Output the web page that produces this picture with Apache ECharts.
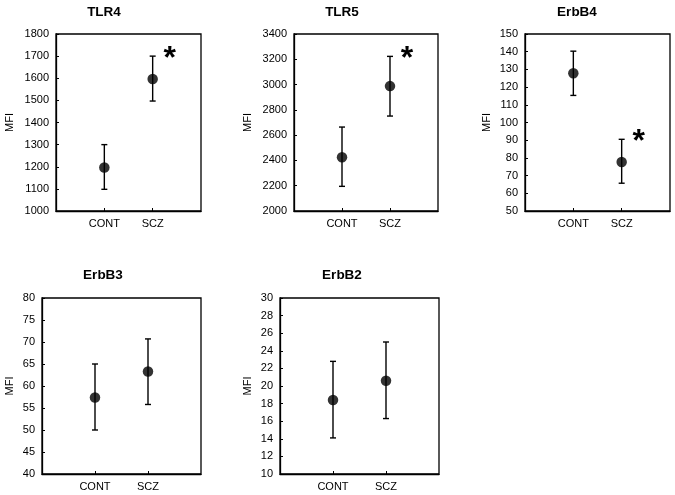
<!DOCTYPE html>
<html>
<head>
<meta charset="utf-8">
<script src="https://cdn.jsdelivr.net/npm/echarts@6/dist/echarts.min.js"></script>
<style>
html,body{margin:0;padding:0;background:#fff;}
#chart{width:675px;height:495px;}
</style>
</head>
<body>
<div id="chart"></div>
<script>
// ---- data ----
var axisCats = ['', 'CONT', 'SCZ', ''];
var groups = ['CONT', 'SCZ'];

var panelTitles = ['TLR4', 'TLR5', 'ErbB4', 'ErbB3', 'ErbB2'];
var yAxisName = 'MFI';

var tlr4Mean = [1197, 1597];
var tlr4Low = [1098, 1497];
var tlr4High = [1300, 1700];
var tlr4Sig = [false, true];

var tlr5Mean = [2425, 2988];
var tlr5Low = [2195, 2751];
var tlr5High = [2664, 3223];
var tlr5Sig = [false, true];

var erbb4Mean = [127.8, 77.7];
var erbb4Low = [115.3, 65.7];
var erbb4High = [140.3, 90.5];
var erbb4Sig = [false, true];

var erbb3Mean = [57.4, 63.3];
var erbb3Low = [50.0, 55.8];
var erbb3High = [65.0, 70.7];
var erbb3Sig = [false, false];

var erbb2Mean = [18.4, 20.6];
var erbb2Low = [14.1, 16.3];
var erbb2High = [22.8, 25.0];
var erbb2Sig = [false, false];

// y axis ranges (min, max, interval)
var yMin = [1000, 2000, 50, 40, 10];
var yMax = [1800, 3400, 150, 80, 30];
var yStep = [100, 200, 10, 5, 2];

// ---- layout ----
var grids = [
  {left: 56, top: 34, width: 145, height: 177},
  {left: 294, top: 34, width: 144, height: 177},
  {left: 525, top: 34, width: 145, height: 177},
  {left: 42, top: 298, width: 159, height: 176},
  {left: 280, top: 298, width: 159, height: 176}
];
var titlePos = [
  {x: 104, y: 5}, {x: 342, y: 5}, {x: 577, y: 5},
  {x: 103, y: 268}, {x: 342, y: 268}
];
var nameGaps = [41, 41, 33, 27, 27];

var panels = [
  [tlr4Mean, tlr4Low, tlr4High, tlr4Sig],
  [tlr5Mean, tlr5Low, tlr5High, tlr5Sig],
  [erbb4Mean, erbb4Low, erbb4High, erbb4Sig],
  [erbb3Mean, erbb3Low, erbb3High, erbb3Sig],
  [erbb2Mean, erbb2Low, erbb2High, erbb2Sig]
];

var FONT = 'Liberation Sans, Arial, sans-serif';
var option = {
  animation: false,
  backgroundColor: '#fff',
  title: [], grid: [], xAxis: [], yAxis: [], series: []
};

function errorRender(params, api) {
  var x = api.value(0);
  var lo = api.coord([x, api.value(1)]);
  var hi = api.coord([x, api.value(2)]);
  var sig = api.value(3);
  var cap = 3;
  var style = {stroke: '#000', lineWidth: 1.4};
  var children = [
    {type: 'line', shape: {x1: lo[0], y1: lo[1], x2: hi[0], y2: hi[1]}, style: style},
    {type: 'line', shape: {x1: lo[0] - cap, y1: lo[1], x2: lo[0] + cap, y2: lo[1]}, style: style},
    {type: 'line', shape: {x1: hi[0] - cap, y1: hi[1], x2: hi[0] + cap, y2: hi[1]}, style: style}
  ];
  if (sig) {
    children.push({
      type: 'text',
      style: {
        text: '*', x: hi[0] + 17, y: hi[1] + 3,
        textAlign: 'center', textVerticalAlign: 'middle',
        font: 'bold 32px ' + FONT, fill: '#000'
      }
    });
  }
  return {type: 'group', children: children};
}

panels.forEach(function (p, i) {
  var mean = p[0], low = p[1], high = p[2], sig = p[3];
  option.title.push({
    text: panelTitles[i], left: titlePos[i].x, top: titlePos[i].y, textAlign: 'center',
    padding: 0,
    textStyle: {fontFamily: FONT, fontSize: 13.5, fontWeight: 'bold', color: '#000'}
  });
  var g = grids[i];
  option.grid.push({left: g.left, top: g.top, width: g.width, height: g.height,
    show: true, borderColor: '#000', borderWidth: 1.3, backgroundColor: 'transparent'});
  option.xAxis.push({
    type: 'category', gridIndex: i, data: axisCats, boundaryGap: false,
    axisLine: {lineStyle: {color: '#000', width: 1.3}},
    axisTick: {inside: true, length: 3, interval: function (idx) { return idx === 1 || idx === 2; },
      lineStyle: {color: '#000'}},
    axisLabel: {interval: function (idx) { return idx === 1 || idx === 2; }, margin: 7,
      fontFamily: FONT, fontSize: 11, color: '#000'},
    splitLine: {show: false}
  });
  option.yAxis.push({
    type: 'value', gridIndex: i, min: yMin[i], max: yMax[i], interval: yStep[i],
    name: yAxisName, nameLocation: 'middle', nameGap: nameGaps[i],
    nameTextStyle: {fontFamily: FONT, fontSize: 11, color: '#000'},
    axisLine: {show: true, lineStyle: {color: '#000', width: 1.3}},
    axisTick: {show: true, inside: true, length: 3, lineStyle: {color: '#000'}},
    axisLabel: {margin: 7, fontFamily: FONT, fontSize: 11, color: '#000',
      formatter: function (v) { return String(v); }},
    splitLine: {show: false}
  });
  var errData = groups.map(function (gname, k) { return [gname, low[k], high[k], sig[k] ? 1 : 0]; });
  option.series.push({
    type: 'custom', xAxisIndex: i, yAxisIndex: i, renderItem: errorRender,
    encode: {x: 0, y: [1, 2]}, data: errData, z: 2
  });
  option.series.push({
    type: 'scatter', xAxisIndex: i, yAxisIndex: i, symbol: 'circle', symbolSize: 10.5,
    itemStyle: {color: '#000'}, z: 3,
    data: groups.map(function (gname, k) { return [gname, mean[k]]; })
  });
});

var chart = echarts.init(document.getElementById('chart'), null, {renderer: 'canvas'});
chart.setOption(option);
</script>
</body>
</html>
